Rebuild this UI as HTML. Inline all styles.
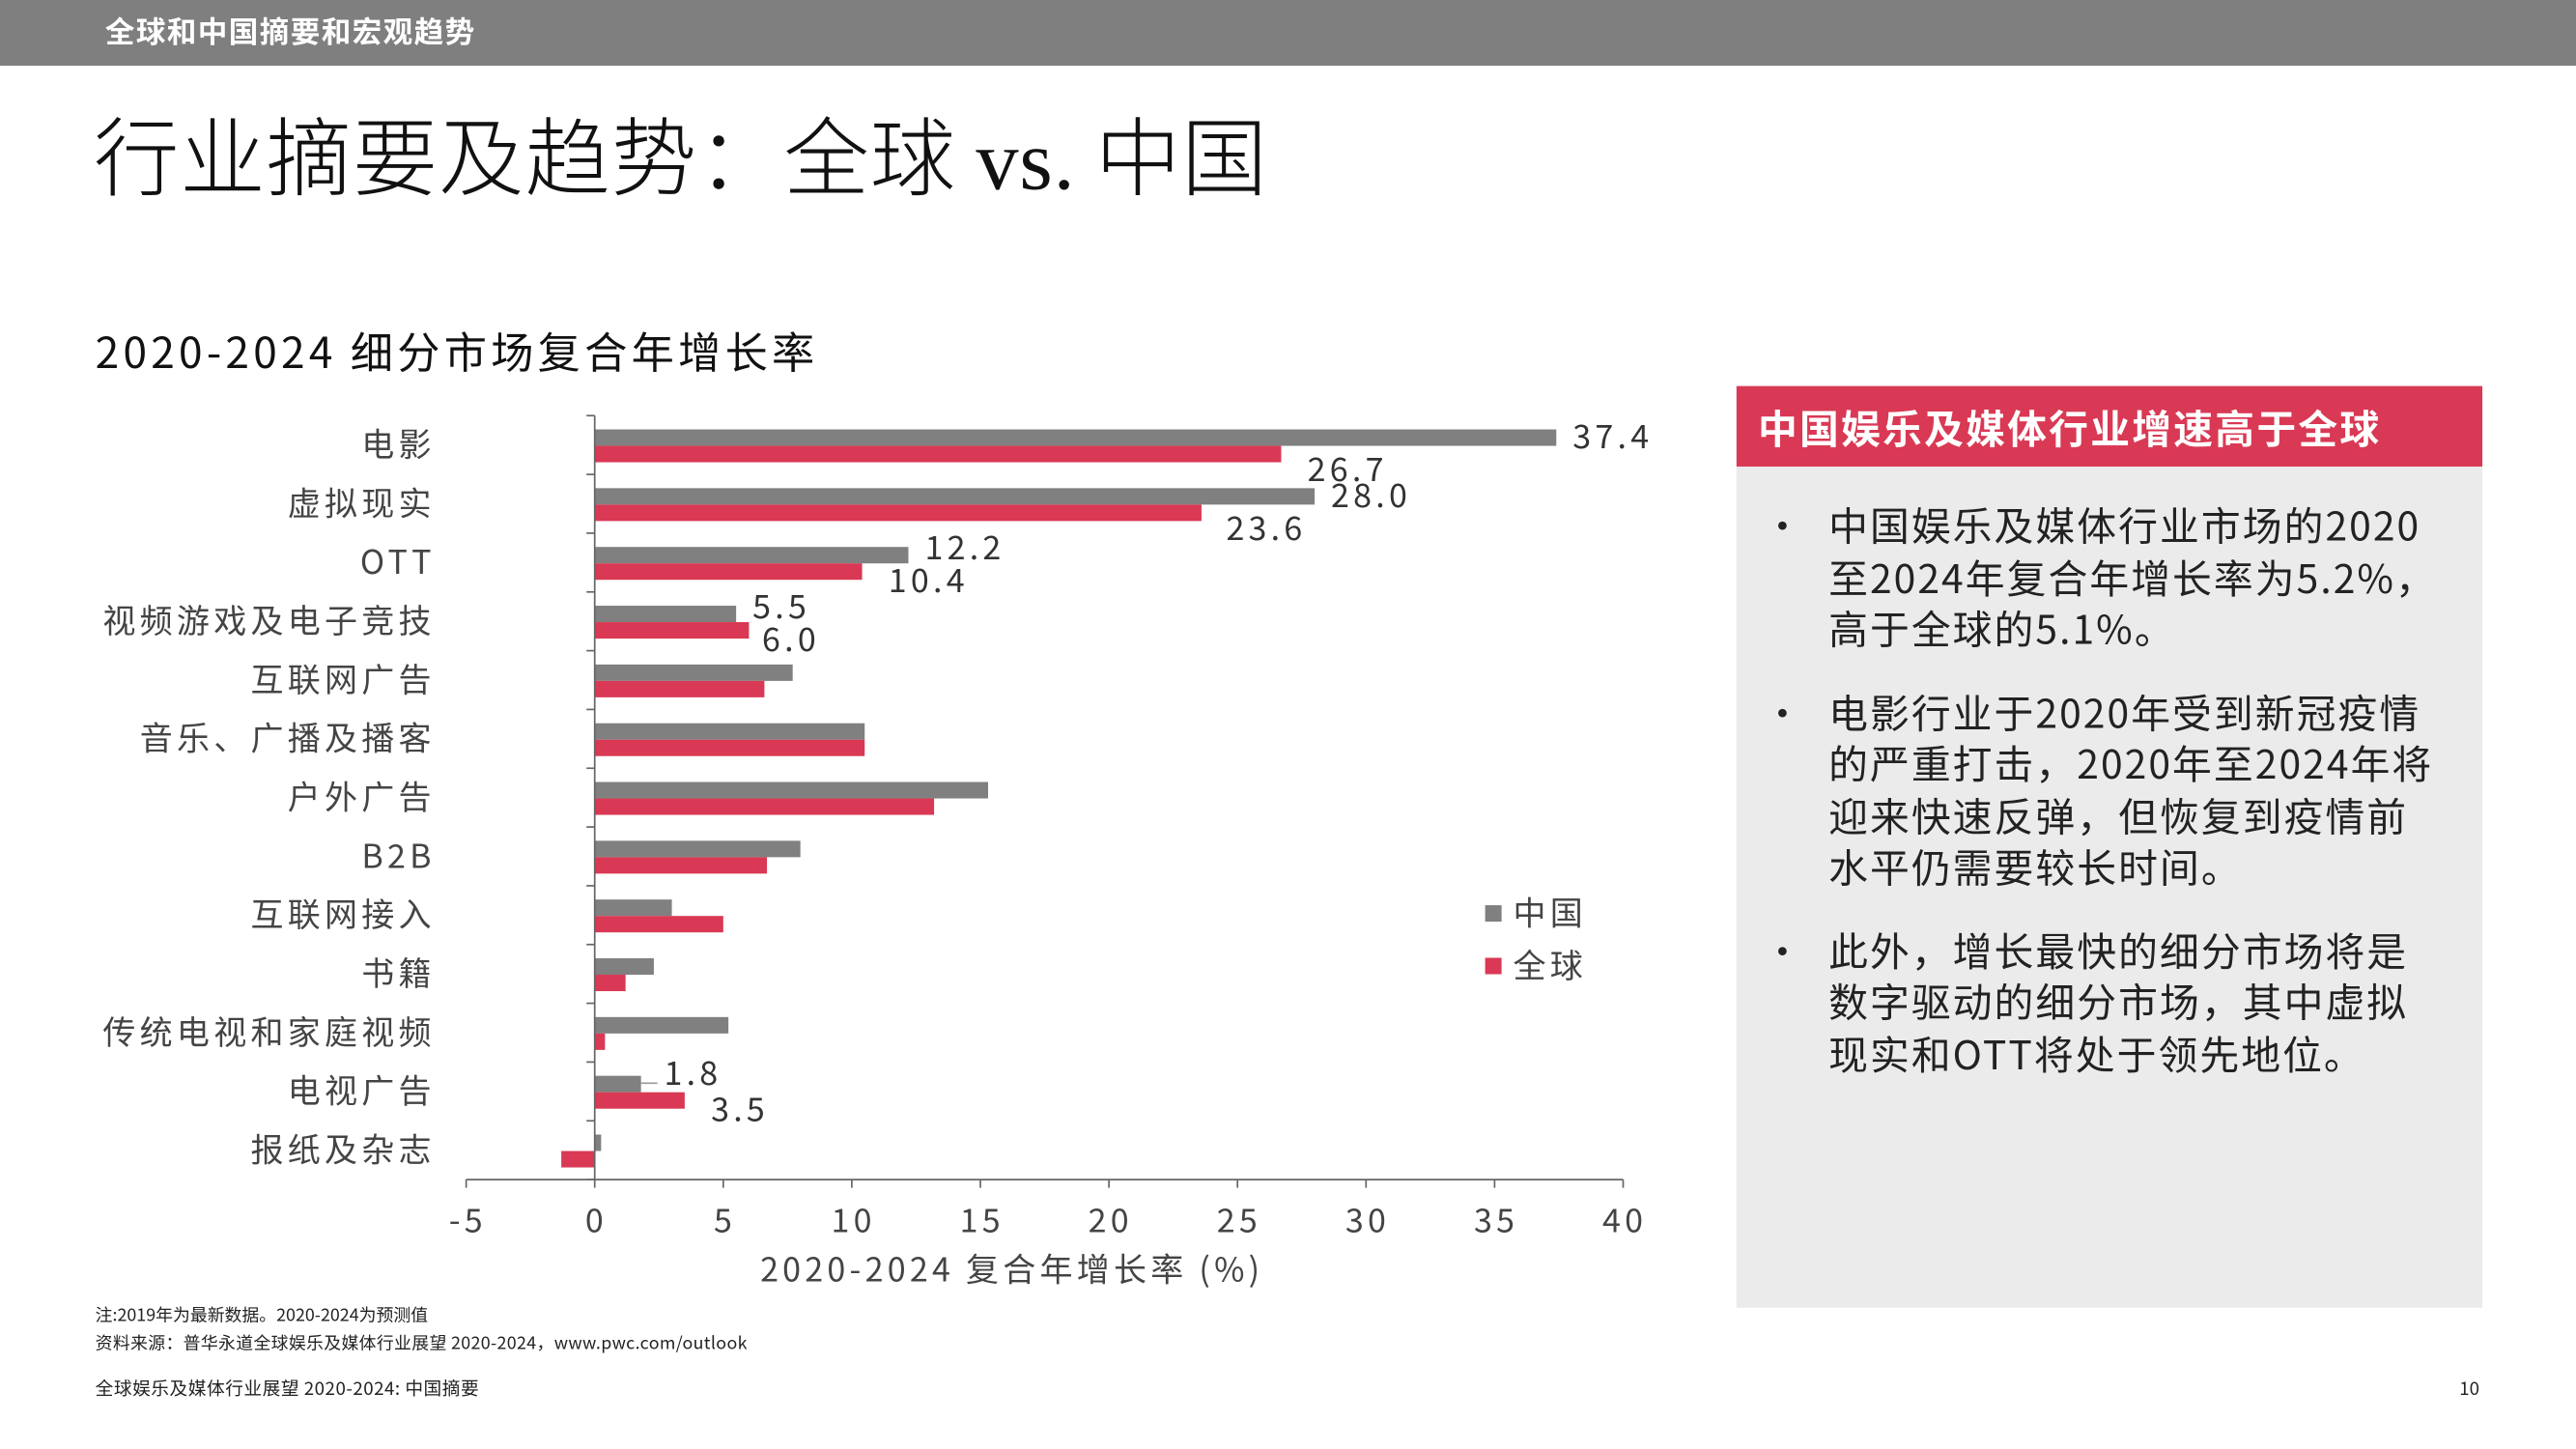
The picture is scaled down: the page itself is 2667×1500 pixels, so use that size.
<!DOCTYPE html>
<html><head><meta charset="utf-8">
<style>
html,body{margin:0;padding:0;width:2667px;height:1500px;overflow:hidden;background:#fff}
#wrap{position:absolute;left:0;top:0;width:1568px;height:882px;transform:scale(1.70089,1.70068);transform-origin:0 0;font-family:"Noto Sans CJK SC","Liberation Sans",sans-serif;color:#222}
.abs{position:absolute;white-space:nowrap}
ul{margin:0;padding:0;list-style:none}
li{position:relative;padding-left:56px;margin-bottom:19px}
li:before{content:"•";position:absolute;left:16px;top:0}
svg text{letter-spacing:2.5px}
</style></head><body>
<div id="wrap">
<div class="abs" style="left:0;top:0;width:1568px;height:40px;background:#7f7f7f"></div>
<div class="abs" style="left:64px;top:6px;font-size:18px;font-weight:bold;color:#fff;line-height:26px;letter-spacing:0.8px">全球和中国摘要和宏观趋势</div>
<div class="abs" style="left:57px;top:58px;font-size:52px;line-height:70px;color:#111;font-weight:300;letter-spacing:0.5px">行业摘要及趋势：全球 <span style="font-family:'Liberation Serif',serif;font-weight:normal">vs.</span> 中国</div>
<div class="abs" style="left:58px;top:196px;font-size:26px;line-height:36px;color:#111;letter-spacing:2.5px">2020-2024 细分市场复合年增长率</div>

<svg class="abs" style="left:0;top:0" width="1040" height="800" id="chart"></svg>

<div class="abs" style="left:1057px;top:235px;width:454px;height:561px;background:#ebebeb"></div>
<div class="abs" style="left:1057px;top:235px;width:454px;height:49px;background:#d93954"></div>
<div class="abs" style="left:1070px;top:243px;font-size:24px;line-height:34px;font-weight:bold;color:#fff;letter-spacing:1.3px">中国娱乐及媒体行业增速高于全球</div>
<div class="abs" style="left:1057px;top:303px;width:454px;font-size:24px;line-height:31.5px;color:#222;letter-spacing:1.2px">
<ul>
<li>中国娱乐及媒体行业市场的2020<br>至2024年复合年增长率为5.2%，<br>高于全球的5.1%。</li>
<li>电影行业于2020年受到新冠疫情<br>的严重打击，2020年至2024年将<br>迎来快速反弹，但恢复到疫情前<br>水平仍需要较长时间。</li>
<li>此外，增长最快的细分市场将是<br>数字驱动的细分市场，其中虚拟<br>现实和OTT将处于领先地位。</li>
</ul></div>

<div class="abs" style="left:58px;top:793px;font-size:10.5px;line-height:15px;color:#222">注:2019年为最新数据。2020-2024为预测值</div>
<div class="abs" style="left:58px;top:810px;font-size:10.5px;line-height:15px;color:#222;letter-spacing:0.2px">资料来源：普华永道全球娱乐及媒体行业展望 2020-2024，www.pwc.com/outlook</div>
<div class="abs" style="left:58px;top:837px;font-size:11px;line-height:16px;color:#222;letter-spacing:0.3px">全球娱乐及媒体行业展望 2020-2024: 中国摘要</div>
<div class="abs" style="left:1497px;top:837px;font-size:11px;line-height:16px;color:#222">10</div>
</div>
<script>
const categories=["电影","虚拟现实","OTT","视频游戏及电子竞技","互联网广告","音乐、广播及播客","户外广告","B2B","互联网接入","书籍","传统电视和家庭视频","电视广告","报纸及杂志"];
const chinaValues=[37.4,28.0,12.2,5.5,7.7,10.5,15.3,8.0,3.0,2.3,5.2,1.8,0.25];
const globalValues=[26.7,23.6,10.4,6.0,6.6,10.5,13.2,6.7,5.0,1.2,0.4,3.5,-1.3];
const xTicks=[-5,0,5,10,15,20,25,30,35,40];
// labelled values: [categoryIndex, series(0 china,1 global), dx, dy]
const labelled=[[0,0,10,0],[0,1,16,10],[1,0,10,0],[1,1,15,10],[2,0,10,-4],[2,1,16,6],[3,0,10,-4],[3,1,8,6],[11,0,14,-6],[11,1,16,6]];
const svg=document.getElementById('chart');const NS='http://www.w3.org/2000/svg';
const X0=362,X1=988,vMin=0,vMax=40,yTop=253,yBot=718;
const xs=v=>X0+(v-vMin)*(X1-X0)/(vMax-vMin);
const band=(yBot-yTop)/categories.length;
function mk(t,a,p){const e=document.createElementNS(NS,t);for(const k in a)e.setAttribute(k,a[k]);(p||svg).appendChild(e);return e;}
const C1='#808080',C2='#d93954',TXT='#444';
categories.forEach((c,i)=>{
 const yc=yTop+band*i+band/2;
 const t=mk('text',{x:265,y:yc+7,'text-anchor':'end','font-size':20,fill:TXT});t.textContent=c;
 
 
 [[chinaValues[i],C1,yc-9.5],[globalValues[i],C2,yc+0.5]].forEach(([v,col,y])=>{
  const a=Math.min(xs(v),xs(0)),w=Math.abs(xs(v)-xs(0));
  const r=mk('rect',{x:a,y:y,width:w,height:10,fill:col});
  
  
 });
});
for(let i=0;i<=categories.length;i++){const y=yTop+band*i;mk('line',{x1:357,x2:362,y1:y,y2:y,stroke:'#666','stroke-width':1});}
mk('line',{x1:X0,x2:X0,y1:yTop,y2:yBot,stroke:'#666','stroke-width':1});
mk('line',{x1:xs(-5),x2:X1,y1:yBot,y2:yBot,stroke:'#666','stroke-width':1});
xTicks.forEach(v=>{mk('line',{x1:xs(v),x2:xs(v),y1:yBot,y2:yBot+5,stroke:'#666'});
 const t=mk('text',{x:xs(v)+1,y:750,'text-anchor':'middle','font-size':20,fill:TXT});t.textContent=v;
 
 });
const at=mk('text',{x:616,y:780,'text-anchor':'middle','font-size':20,fill:TXT});at.textContent='2020-2024 复合年增长率 (%)';


labelled.forEach(([i,s,dx,dy])=>{
 const v=s?globalValues[i]:chinaValues[i];const yc=yTop+band*i+band/2+(s?5:-5);
 const t=mk('text',{x:xs(v)+dx,y:yc+7+dy,'font-size':20,fill:'#333'});t.textContent=v.toFixed(1);
 
 
});
mk('line',{x1:xs(chinaValues[11]),x2:xs(chinaValues[11])+10,y1:yTop+band*11+band/2-5,y2:yTop+band*11+band/2-5,stroke:'#999'});
[['中国',C1,556],['全球',C2,588]].forEach(([n,c,y])=>{
 const r=mk('rect',{x:904,y:y-5,width:10,height:10,fill:c});
 
 
 const t=mk('text',{x:921,y:y+7,'font-size':20,fill:TXT});t.textContent=n;
 
 
});
</script>
</body></html>
